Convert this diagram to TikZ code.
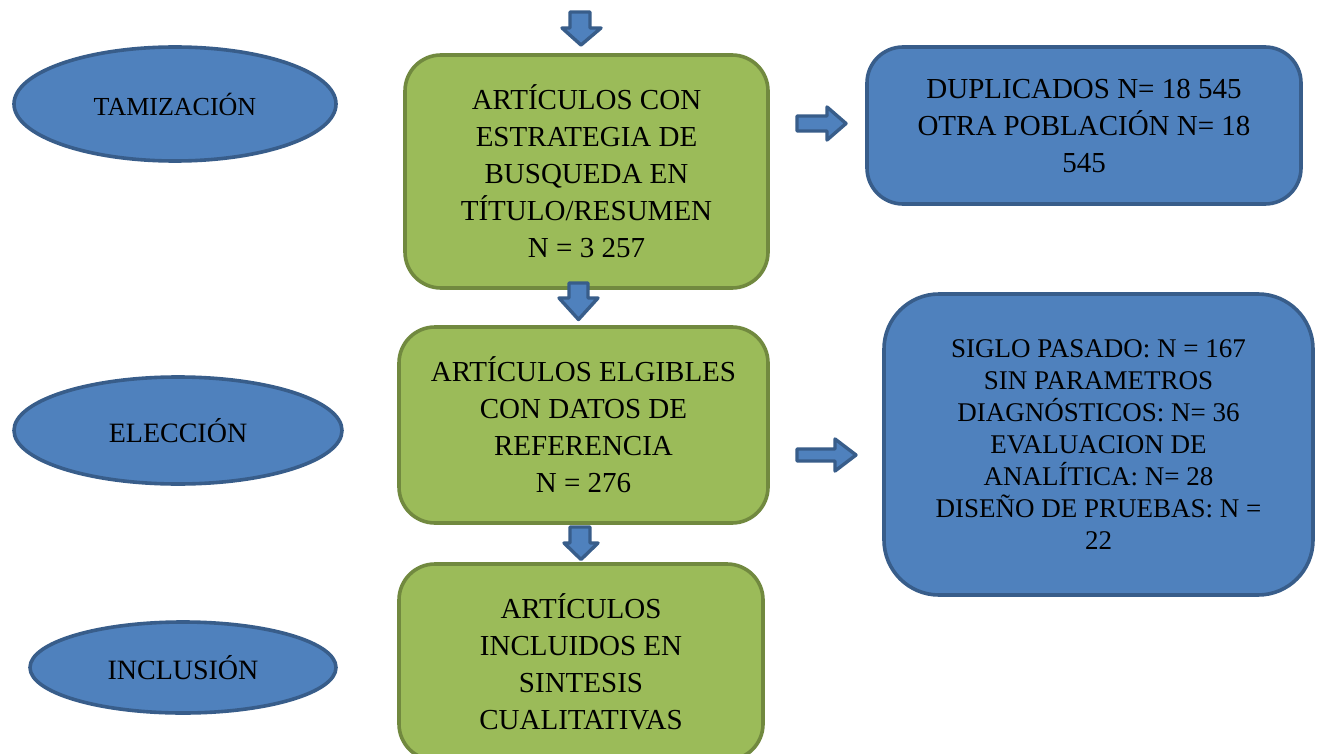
\documentclass[tikz,border=0pt]{standalone}
\usepackage{fontspec}
\setmainfont{Liberation Serif}
\usetikzlibrary{shapes.geometric}
\definecolor{bfill}{HTML}{4F81BD}
\definecolor{bborder}{HTML}{385D8A}
\definecolor{gfill}{HTML}{9BBB59}
\definecolor{gborder}{HTML}{71893F}
\tikzset{
  greenbox/.style={draw=gborder, fill=gfill, line width=3.6pt, rounded corners=36pt, align=center, inner sep=0pt, font=\fontsize{29}{37}\selectfont},
  bluebox/.style={draw=bborder, fill=bfill, line width=3.6pt, rounded corners=36pt, align=center, inner sep=0pt, font=\fontsize{29}{37}\selectfont},
  oval/.style={ellipse, draw=bborder, fill=bfill, line width=3.6pt, inner sep=0pt, font=\fontsize{26}{31}\selectfont},
  blockarrow/.style={draw=bborder, fill=bfill, line width=3.4pt, line join=round}
}
\begin{document}
\begin{tikzpicture}[x=1pt,y=-1pt]
\useasboundingbox[fill=white] (0,0) rectangle (1319,754);

% ovals
\node[oval, minimum width=322pt, minimum height=114pt] (tam) at (175,104) {TAMIZACIÓN};
\node[oval, minimum width=328pt, minimum height=107pt, font=\fontsize{28}{33}\selectfont] (ele) at (178,430.5) {ELECCIÓN};
\node[oval, minimum width=306pt, minimum height=91pt, font=\fontsize{28}{33}\selectfont] (inc) at (183,667.5) {INCLUSIÓN};

% green boxes
\node[greenbox, minimum width=363pt, minimum height=233pt] (g1) at (586.5,171.5)
  {ARTÍCULOS CON\\ESTRATEGIA DE\\BUSQUEDA EN\\TÍTULO/RESUMEN\\N = 3 257};
\node[greenbox, minimum width=369pt, minimum height=196pt] (g2) at (583.5,425)
  {ARTÍCULOS ELGIBLES\\CON DATOS DE\\REFERENCIA\\N = 276};
\node[greenbox, minimum width=364pt, minimum height=196pt] (g3) at (581,662)
  {ARTÍCULOS\\INCLUIDOS EN\\SINTESIS\\CUALITATIVAS};

% blue boxes
\node[bluebox, minimum width=434pt, minimum height=157pt] (b1) at (1084,125.5)
  {DUPLICADOS N= 18 545\\OTRA POBLACIÓN N= 18\\545};
\node[bluebox, rounded corners=55pt, minimum width=429pt, minimum height=301pt, font=\fontsize{27}{32}\selectfont] (b2) at (1098.5,444.5)
  {SIGLO PASADO: N = 167\\SIN PARAMETROS\\DIAGNÓSTICOS: N= 36\\EVALUACION DE\\ANALÍTICA: N= 28\\DISEÑO DE PRUEBAS: N =\\22};

% down block arrows
\draw[blockarrow] (570,12) -- (590,12) -- (590,28) -- (601,28) -- (581,45) -- (562,28) -- (570,28) -- cycle;
\draw[blockarrow] (569,283) -- (588,283) -- (588,298) -- (598,298) -- (578.5,319.5) -- (559,298) -- (569,298) -- cycle;
\draw[blockarrow] (570,527) -- (590,527) -- (590,543) -- (598,543) -- (581,559.5) -- (564,543) -- (570,543) -- cycle;

% right block arrows
\draw[blockarrow] (797,116) -- (827,116) -- (827,107) -- (846,123.5) -- (827,140) -- (827,131) -- (797,131) -- cycle;
\draw[blockarrow] (797,449) -- (835,449) -- (835,439) -- (856,455) -- (835,471) -- (835,461) -- (797,461) -- cycle;
\end{tikzpicture}
\end{document}
